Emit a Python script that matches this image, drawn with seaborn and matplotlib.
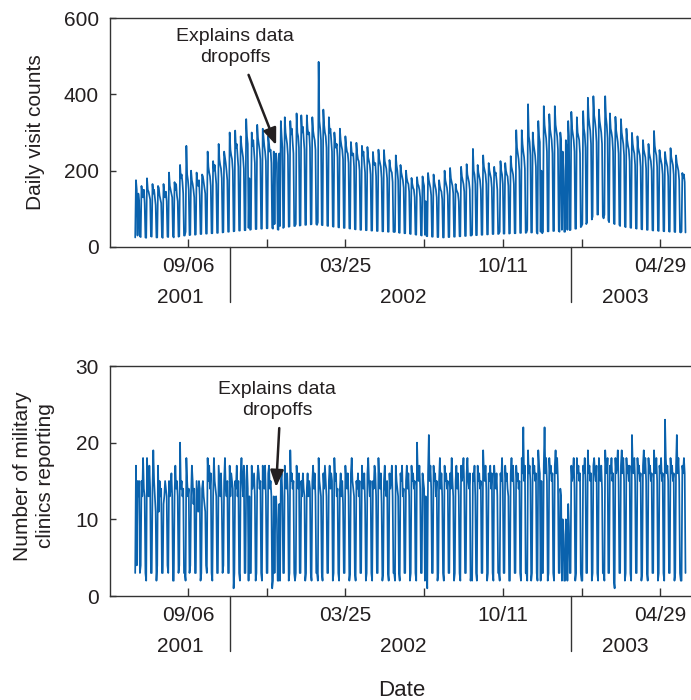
import seaborn as sns
import matplotlib.pyplot as plt
import matplotlib.transforms as mtransforms
import pandas as pd
import numpy as np

# daily series start on Sunday 2001-07-01, one row per week (Sun..Sat)
start_date = "2001-07-01"

visits_by_week = [
    [25, 175, 150, 30, 140, 120, 28], [26, 160, 140, 130, 150, 115, 25],
    [24, 180, 150, 145, 135, 125, 28], [27, 165, 140, 150, 130, 110, 25],
    [25, 160, 155, 135, 125, 115, 26], [24, 165, 140, 130, 145, 120, 27],
    [26, 195, 160, 150, 140, 130, 28], [25, 170, 150, 165, 135, 120, 27],
    [28, 215, 180, 190, 170, 140, 30], [30, 40, 265, 190, 175, 150, 31],
    [32, 200, 175, 165, 150, 130, 32], [33, 195, 170, 160, 175, 135, 34],
    [34, 190, 185, 170, 155, 140, 35], [35, 250, 210, 195, 185, 160, 36],
    [36, 225, 200, 215, 190, 165, 37], [37, 270, 230, 215, 205, 180, 38],
    [39, 250, 235, 220, 200, 175, 40], [40, 300, 255, 240, 230, 200, 41],
    [42, 305, 260, 270, 240, 210, 43], [43, 290, 265, 250, 235, 205, 44],
    [44, 335, 290, 270, 50, 180, 45], [46, 300, 265, 280, 250, 220, 47],
    [47, 320, 285, 270, 255, 230, 48], [48, 310, 290, 265, 250, 225, 49],
    [49, 290, 270, 250, 255, 220, 50], [48, 250, 60, 235, 245, 220, 46],
    [45, 245, 55, 330, 290, 260, 50], [52, 340, 300, 285, 270, 240, 53],
    [54, 330, 295, 310, 275, 245, 55], [55, 60, 350, 300, 290, 260, 56],
    [57, 345, 300, 315, 285, 255, 58], [58, 345, 310, 295, 300, 260, 59],
    [60, 340, 305, 290, 280, 255, 60], [58, 65, 485, 330, 310, 280, 58],
    [57, 360, 320, 300, 290, 260, 56], [55, 340, 300, 310, 280, 250, 54],
    [53, 300, 275, 260, 270, 235, 52], [51, 310, 280, 265, 255, 230, 50],
    [50, 290, 265, 250, 245, 220, 49], [48, 275, 250, 240, 245, 210, 47],
    [46, 273, 245, 230, 225, 200, 45], [45, 265, 240, 250, 220, 195, 44],
    [44, 262, 235, 225, 215, 190, 43], [43, 249, 225, 215, 220, 185, 42],
    [42, 255, 230, 220, 210, 180, 41], [41, 254, 225, 215, 205, 180, 40],
    [40, 228, 210, 200, 195, 170, 40], [39, 40, 240, 215, 200, 175, 38],
    [37, 215, 195, 185, 175, 155, 36], [36, 200, 180, 170, 165, 145, 35],
    [34, 181, 165, 155, 150, 130, 33], [32, 183, 165, 160, 150, 130, 31],
    [30, 185, 170, 160, 32, 120, 29], [28, 194, 175, 165, 155, 135, 27],
    [27, 190, 170, 160, 150, 130, 26], [26, 175, 160, 150, 145, 125, 25],
    [25, 200, 175, 165, 155, 135, 26], [26, 207, 180, 170, 160, 140, 27],
    [27, 165, 150, 145, 140, 120, 28], [28, 210, 185, 175, 165, 145, 29],
    [29, 217, 190, 180, 170, 150, 30], [30, 32, 257, 200, 190, 165, 31],
    [31, 215, 195, 185, 175, 150, 32], [32, 240, 210, 200, 190, 165, 33],
    [33, 220, 200, 190, 180, 155, 34], [34, 210, 190, 195, 175, 150, 34],
    [35, 40, 225, 200, 190, 165, 35], [35, 220, 200, 190, 185, 160, 35],
    [36, 238, 210, 200, 190, 165, 36], [36, 306, 260, 245, 230, 200, 37],
    [37, 306, 270, 250, 235, 205, 37], [38, 45, 374, 290, 275, 240, 38],
    [38, 300, 270, 255, 240, 210, 39], [35, 330, 290, 275, 40, 200, 36],
    [40, 369, 320, 300, 285, 250, 41], [41, 348, 310, 295, 280, 245, 42],
    [42, 369, 320, 305, 290, 255, 42], [40, 300, 280, 45, 250, 200, 40],
    [40, 280, 260, 45, 330, 290, 44], [45, 354, 310, 295, 280, 250, 48],
    [48, 340, 300, 290, 280, 245, 52], [55, 60, 356, 310, 295, 260, 60],
    [65, 391, 340, 320, 305, 270, 72], [80, 395, 345, 330, 310, 275, 85],
    [85, 360, 330, 315, 300, 270, 80], [75, 85, 395, 340, 320, 285, 70],
    [65, 350, 310, 300, 285, 250, 62], [60, 341, 305, 290, 275, 245, 58],
    [55, 335, 300, 285, 270, 240, 54], [52, 310, 280, 265, 255, 225, 51],
    [50, 299, 270, 255, 245, 215, 49], [48, 290, 260, 250, 240, 210, 47],
    [46, 280, 255, 245, 235, 205, 45], [45, 270, 245, 235, 225, 200, 44],
    [43, 304, 265, 250, 240, 210, 43], [42, 254, 235, 225, 215, 190, 42],
    [41, 249, 230, 220, 210, 185, 41], [40, 259, 235, 225, 215, 190, 40],
    [39, 240, 220, 210, 200, 175, 39], [38, 40, 194, 180, 190, 170, 38],
]

clinics_by_week = [
    [3, 17, 4, 15, 13, 15, 3], [4, 15, 13, 18, 14, 13, 3],
    [2, 18, 15, 13, 17, 14, 3], [3, 14, 19, 15, 13, 11, 2],
    [4, 17, 11, 15, 13, 14, 3], [3, 12, 13, 15, 14, 13, 4],
    [3, 15, 13, 14, 16, 13, 2], [2, 13, 17, 14, 15, 13, 3],
    [4, 20, 14, 15, 13, 14, 3], [3, 2, 18, 15, 13, 14, 3],
    [4, 13, 17, 15, 12, 14, 3], [3, 15, 13, 11, 15, 14, 2],
    [3, 14, 15, 13, 12, 11, 4], [3, 18, 15, 17, 14, 16, 3],
    [2, 13, 18, 15, 14, 13, 3], [3, 17, 15, 13, 16, 12, 3],
    [4, 15, 18, 14, 13, 15, 3], [3, 17, 13, 16, 15, 14, 1],
    [3, 15, 14, 17, 13, 15, 3], [2, 16, 18, 15, 13, 17, 3],
    [3, 15, 17, 14, 2, 13, 3], [3, 17, 14, 15, 16, 13, 2],
    [3, 15, 17, 16, 14, 15, 3], [2, 17, 15, 14, 17, 13, 3],
    [3, 16, 17, 14, 15, 13, 1], [2, 13, 3, 11, 13, 10, 2],
    [2, 12, 2, 15, 16, 13, 3], [3, 17, 15, 14, 16, 13, 2],
    [3, 19, 15, 16, 14, 15, 3], [2, 3, 17, 15, 14, 16, 3],
    [3, 15, 13, 16, 14, 13, 2], [3, 14, 16, 13, 15, 14, 3],
    [2, 15, 17, 14, 16, 13, 3], [3, 2, 18, 15, 14, 13, 3],
    [2, 16, 14, 17, 15, 13, 3], [3, 15, 17, 14, 16, 15, 2],
    [3, 18, 15, 16, 13, 14, 3], [2, 14, 16, 13, 15, 12, 3],
    [3, 17, 15, 14, 16, 13, 2], [3, 16, 18, 15, 14, 13, 3],
    [2, 15, 14, 16, 13, 15, 3], [3, 17, 15, 14, 16, 12, 2],
    [3, 16, 18, 15, 13, 15, 3], [2, 15, 14, 17, 16, 13, 3],
    [3, 18, 15, 14, 16, 12, 2], [3, 15, 17, 14, 13, 15, 3],
    [2, 16, 14, 15, 17, 13, 3], [3, 2, 17, 15, 14, 13, 3],
    [2, 16, 15, 17, 13, 14, 3], [3, 15, 17, 14, 16, 13, 2],
    [3, 17, 15, 16, 14, 15, 3], [2, 20, 16, 15, 17, 14, 3],
    [3, 16, 15, 14, 2, 13, 3], [1, 16, 21, 15, 17, 14, 3],
    [3, 17, 15, 16, 13, 15, 2], [3, 15, 18, 14, 16, 13, 3],
    [2, 17, 15, 16, 14, 15, 3], [3, 16, 14, 18, 15, 13, 2],
    [3, 15, 17, 14, 16, 13, 3], [2, 17, 15, 16, 18, 14, 3],
    [3, 16, 18, 15, 14, 16, 2], [3, 2, 16, 15, 17, 13, 3],
    [2, 17, 15, 16, 14, 15, 3], [3, 19, 16, 15, 17, 14, 2],
    [3, 16, 15, 17, 14, 16, 3], [2, 17, 15, 14, 16, 13, 3],
    [3, 2, 16, 15, 18, 14, 3], [3, 17, 15, 16, 14, 13, 2],
    [2, 16, 18, 15, 17, 14, 3], [3, 17, 15, 16, 14, 15, 3],
    [2, 18, 16, 22, 15, 17, 3], [3, 2, 19, 16, 17, 15, 2],
    [3, 18, 16, 17, 15, 16, 3], [2, 19, 17, 16, 2, 15, 3],
    [3, 17, 22, 16, 18, 15, 2], [3, 18, 16, 17, 15, 16, 3],
    [2, 17, 19, 16, 18, 15, 3], [3, 14, 13, 2, 10, 8, 2],
    [2, 10, 9, 2, 12, 9, 3], [3, 17, 15, 16, 18, 14, 2],
    [3, 18, 16, 17, 15, 16, 3], [2, 2, 17, 16, 18, 15, 3],
    [3, 19, 16, 17, 15, 16, 2], [3, 17, 18, 16, 15, 17, 3],
    [2, 18, 16, 15, 17, 14, 3], [3, 2, 19, 17, 16, 18, 3],
    [3, 17, 16, 18, 15, 16, 2], [1, 18, 16, 17, 19, 15, 3],
    [3, 17, 19, 16, 18, 15, 2], [3, 18, 16, 17, 15, 17, 3],
    [2, 21, 17, 16, 18, 15, 3], [3, 18, 16, 17, 15, 16, 2],
    [3, 17, 19, 16, 18, 15, 3], [2, 18, 16, 17, 15, 16, 3],
    [3, 19, 17, 16, 18, 15, 2], [3, 17, 16, 18, 15, 16, 3],
    [2, 23, 18, 16, 17, 15, 3], [3, 18, 16, 17, 15, 16, 2],
    [3, 17, 21, 16, 18, 15, 3], [2, 2, 17, 16, 18, 16, 3],
]

major_dates = ["2001-09-06", "2002-03-25", "2002-10-11", "2003-04-29"]
major_labels = ["09/06", "03/25", "10/11", "04/29"]
minor_dates = ["2001-12-15", "2002-07-03", "2003-01-19"]
year_labels = ["2001", "2002", "2003"]
year_label_dates = ["2001-08-27", "2002-06-06", "2003-03-15"]
year_split_dates = ["2001-10-29", "2003-01-06"]

line_color = "#0a62ad"
text_color = "#231f20"

sns.set_style("ticks")
plt.rcParams["font.family"] = ["Liberation Sans", "DejaVu Sans"]
plt.rcParams["text.color"] = text_color

days = pd.date_range(start_date, periods=7 * len(visits_by_week), freq="D")
df = pd.DataFrame({
    "date": days,
    "visits": np.ravel(visits_by_week),
    "clinics": np.ravel(clinics_by_week),
})

fig = plt.figure(figsize=(6.91, 7.0), dpi=100)
ax1 = fig.add_axes([110 / 691, 1 - 247 / 700, 581 / 691, 229 / 700])
ax2 = fig.add_axes([110 / 691, 1 - 596 / 700, 581 / 691, 230 / 700])

x0 = pd.Timestamp("2001-09-06")
xlim = (x0 - pd.Timedelta(days=99), x0 + pd.Timedelta(days=639))

panels = [
    (ax1, "visits", (0, 600), [0, 200, 400, 600]),
    (ax2, "clinics", (0, 30), [0, 10, 20, 30]),
]

for ax, col, ylim, yticks in panels:
    sns.lineplot(data=df, x="date", y=col, ax=ax, color=line_color,
                 linewidth=1.25, estimator=None)
    ax.set_xlim(*xlim)
    ax.set_ylim(*ylim)
    ax.set_yticks(yticks)
    ax.set_xticks(pd.to_datetime(major_dates))
    ax.set_xticklabels(major_labels)
    ax.set_xticks(pd.to_datetime(minor_dates), minor=True)
    ax.set_xlabel("")
    ax.set_ylabel("")
    ax.tick_params(axis="x", which="both", direction="in", length=6, width=1,
                   labelsize=15, pad=7, colors="#333333", labelcolor=text_color)
    ax.tick_params(axis="y", direction="in", length=4, width=1,
                   labelsize=15, pad=8, colors="#333333", labelcolor=text_color)
    ax.spines["right"].set_visible(False)
    for s in ["top", "left", "bottom"]:
        ax.spines[s].set_linewidth(1.0)
        ax.spines[s].set_color("#333333")

    trans = mtransforms.blended_transform_factory(ax.transData, ax.transAxes)
    for d in year_split_dates:
        ax.plot([pd.Timestamp(d)] * 2, [0, -0.24], transform=trans,
                clip_on=False, color="#333333", linewidth=1.0)
    for d, lab in zip(year_label_dates, year_labels):
        ax.text(pd.Timestamp(d), -0.22, lab, transform=trans, ha="center",
                va="center", fontsize=15)

# y labels placed in figure pixels
fig.text(36 / 691, 1 - 132 / 700, "Daily visit counts", rotation=90,
         ha="center", va="center", fontsize=15)
fig.text(34 / 691, 1 - 476 / 700, "Number of military\nclinics reporting",
         rotation=90, ha="center", va="center", fontsize=15, linespacing=1.25)

arrow = dict(arrowstyle="-|>,head_length=1.0,head_width=0.4", lw=1.8,
             color=text_color, shrinkA=0, shrinkB=0)

ax1.text(pd.Timestamp("2001-11-05"), 523, "Explains data\ndropoffs",
         ha="center", va="center", fontsize=14, linespacing=1.3)
ax1.annotate("", xy=(pd.Timestamp("2001-12-27"), 267),
             xytext=(pd.Timestamp("2001-11-22"), 451), arrowprops=arrow)

ax2.text(pd.Timestamp("2001-12-28"), 25.6, "Explains data\ndropoffs",
         ha="center", va="center", fontsize=14, linespacing=1.3)
ax2.annotate("", xy=(pd.Timestamp("2001-12-27"), 14.2),
             xytext=(pd.Timestamp("2001-12-31"), 21.9), arrowprops=arrow)

fig.text(402 / 691, 1 - 690 / 700, "Date", ha="center", va="center", fontsize=16)

plt.savefig("out.png", dpi=100)
